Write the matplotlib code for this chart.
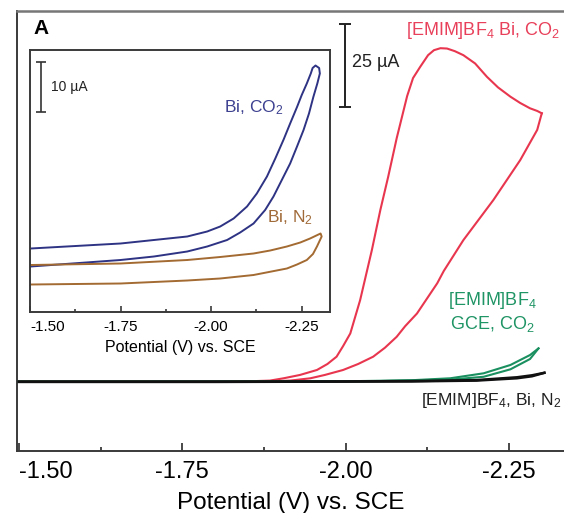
import matplotlib
matplotlib.use("Agg")
import matplotlib.pyplot as plt

plt.rcParams['font.family'] = ['Liberation Sans', 'DejaVu Sans']
plt.rcParams['mathtext.fontset'] = 'custom'
plt.rcParams['mathtext.rm'] = 'Liberation Sans'
plt.rcParams['mathtext.it'] = 'Liberation Sans'

# main panel: potential (V vs SCE) and current (uA, baseline = 0)
red_fwd_v = [-1.50, -1.70, -1.80, -1.854, -1.884, -1.905, -1.930, -1.956, -1.972, -1.986, -1.996,
             -2.007, -2.022, -2.040, -2.053, -2.065, -2.078, -2.094, -2.103, -2.114, -2.126,
             -2.135, -2.145, -2.155, -2.167, -2.180, -2.198, -2.216, -2.233, -2.252, -2.267,
             -2.282, -2.293, -2.300]
red_fwd_i = [0.0, 0.0, 0.0, 0.1, 0.3, 1.0, 2.0, 3.5, 5.3, 7.5, 10.7,
             14.5, 24.5, 39.6, 51.7, 61.7, 73.3, 86.0, 91.4, 94.8, 98.3,
             99.8, 100.4, 100.3, 99.5, 98.3, 95.8, 91.8, 88.6, 85.8, 83.9,
             82.3, 81.5, 80.8]
red_rev_v = [-2.300, -2.293, -2.267, -2.226, -2.180, -2.150, -2.140, -2.109, -2.091, -2.078,
             -2.060, -2.042, -2.019, -1.996, -1.968, -1.946, -1.915, -1.879, -1.70, -1.50]
red_rev_i = [80.8, 75.8, 66.7, 54.7, 42.6, 33.3, 29.6, 20.5, 16.7, 13.5,
             10.2, 7.5, 5.3, 3.5, 2.0, 1.0, 0.3, 0.0, 0.0, 0.0]

green_fwd_v = [-1.50, -1.90, -2.05, -2.16, -2.211, -2.252, -2.282, -2.295]
green_fwd_i = [0.0, 0.0, 0.15, 0.6, 1.45, 3.7, 6.8, 10.0]
green_rev_v = [-2.295, -2.282, -2.252, -2.211, -2.160, -2.100, -2.000, -1.50]
green_rev_i = [10.0, 8.0, 5.0, 2.5, 1.0, 0.4, 0.1, 0.0]

black_fwd_v = [-1.50, -1.80, -2.00, -2.10, -2.20, -2.262, -2.285, -2.304]
black_fwd_i = [0.0, 0.0, 0.05, 0.15, 0.45, 1.3, 1.9, 2.65]
black_rev_v = [-2.304, -2.285, -2.262, -2.20, -2.10, -1.80, -1.50]
black_rev_i = [2.65, 1.6, 1.0, 0.3, 0.05, -0.1, -0.1]

# inset: Bi electrode (uA, bottom of frame = 0)
blue_v = [-1.502, -1.75, -1.842, -1.934, -1.989, -2.044, -2.080, -2.117, -2.149, -2.172,
          -2.195, -2.218, -2.237, -2.255, -2.270, -2.282, -2.293, -2.300,
          -2.298, -2.288, -2.280, -2.275, -2.264, -2.250, -2.237, -2.218, -2.200, -2.177,
          -2.154, -2.126, -2.099, -2.062, -2.025, -1.989, -1.934, -1.842, -1.75, -1.502]
blue_i = [9.1, 10.4, 11.1, 12.1, 13.1, 14.4, 15.9, 17.7, 20.4, 23.1,
          26.4, 29.7, 33.1, 36.4, 39.7, 43.0, 45.7, 47.7,
          48.8, 49.3, 48.8, 47.7, 45.7, 43.4, 41.0, 37.7, 34.5, 30.7,
          27.1, 23.7, 21.1, 18.7, 17.1, 16.1, 15.1, 14.4, 13.7, 12.7]
brown_v = [-1.502, -1.75, -1.934, -2.025, -2.117, -2.209, -2.237, -2.264, -2.281, -2.292, -2.305,
           -2.302, -2.273, -2.246, -2.209, -2.163, -2.117, -2.025, -1.934, -1.75, -1.502]
brown_i = [5.5, 5.7, 6.3, 6.7, 7.4, 8.7, 9.5, 10.4, 11.6, 13.1, 15.1,
           15.7, 14.7, 13.9, 13.1, 12.3, 11.7, 11.0, 10.4, 9.7, 9.4]

tick_pos = [-1.50, -1.75, -2.00, -2.25]
tick_labels = ['-1.50', '-1.75', '-2.00', '-2.25']
minor_pos = [-1.625, -1.875, -2.125]

RED = '#e8364f'
GREEN = '#1a8f5f'
BLUE = '#2e3383'
BROWN = '#a36a32'
FRAME = '#3a3a3a'

fig = plt.figure(figsize=(5.64, 5.13), dpi=100)

# ---- main axes ----
ax = fig.add_axes([17/564, 62/513, 547/564, 440/513])
ax.plot(red_fwd_v, red_fwd_i, color=RED, lw=1.5, zorder=2)
ax.plot(red_rev_v, red_rev_i, color=RED, lw=1.5, zorder=2)
ax.plot(green_fwd_v, green_fwd_i, color=GREEN, lw=1.5, zorder=3)
ax.plot(green_rev_v, green_rev_i, color=GREEN, lw=1.5, zorder=3)
ax.plot(black_fwd_v, black_fwd_i, color='#111111', lw=1.8, zorder=4)
ax.plot(black_rev_v, black_rev_i, color='#111111', lw=1.8, zorder=4)

ax.set_xlim(-1.497, -2.334)
ax.set_ylim(-20.9, 111.6)
ax.set_yticks([])
ax.set_xticks(tick_pos)
ax.set_xticklabels(tick_labels, fontsize=17)
ax.set_xticks(minor_pos, minor=True)
ax.tick_params(axis='x', which='major', direction='in', length=6, width=1.3,
               color=FRAME, pad=7)
ax.tick_params(axis='x', which='minor', direction='in', length=3, width=1.3, color=FRAME)
ax.get_xticklabels()[0].set_ha('left')
ax.set_xlabel('Potential (V) vs. SCE', fontsize=17.5, labelpad=7)
ax.spines['right'].set_visible(False)
for s in ['left', 'bottom']:
    ax.spines[s].set_color(FRAME)
    ax.spines[s].set_linewidth(1.4)
ax.spines['top'].set_color('#777777')
ax.spines['top'].set_linewidth(1.8)

# 25 uA scale bar
ax.errorbar([-1.999], [95.2], yerr=[12.5], color='#222222', lw=1.4, capsize=4.5,
            capthick=1.4, zorder=5)
ax.text(-2.010, 96.2, '25 µA', fontsize=13, va='center', ha='left', color='#222222')

ax.text(-2.0925, 105.6, '[EMIM]BF$_4$ Bi, CO$_2$', fontsize=13, color='#e8405a',
        va='center', ha='left')
ax.text(-2.224, 24.5, '[EMIM]BF$_4$', fontsize=13, color='#1f9465', va='center', ha='center')
ax.text(-2.224, 17.3, 'GCE, CO$_2$', fontsize=13, color='#1f9465', va='center', ha='center')
ax.text(-2.1155, -5.6, '[EMIM]BF$_4$, Bi, N$_2$', fontsize=12.5, color='#222222',
        va='center', ha='left')

fig.text(33/564, 1 - 28/513, 'A', fontsize=15, fontweight='bold', va='center', ha='left')

# ---- inset ----
ins = fig.add_axes([30/564, (513-312)/513, 300/564, 262/513])
ins.plot(blue_v, blue_i, color=BLUE, lw=1.4)
ins.plot(brown_v, brown_i, color=BROWN, lw=1.4)
ins.set_xlim(-1.502, -2.328)
ins.set_ylim(0, 52.4)
ins.set_yticks([])
ins.set_xticks(tick_pos)
ins.set_xticklabels(tick_labels, fontsize=11)
ins.set_xticks(minor_pos, minor=True)
ins.tick_params(axis='x', which='major', direction='in', length=4.5, width=1.2,
                color=FRAME, pad=6)
ins.tick_params(axis='x', which='minor', direction='in', length=2.5, width=1.2, color=FRAME)
ins.get_xticklabels()[0].set_ha('left')
ins.set_xlabel('Potential (V) vs. SCE', fontsize=11.5, labelpad=4)
for s in ins.spines.values():
    s.set_color(FRAME)
    s.set_linewidth(1.4)

ins.errorbar([-1.530], [45], yerr=[5], color='#333333', lw=1.2, capsize=3.5,
             capthick=1.2)
ins.text(-1.557, 45, '10 µA', fontsize=10, va='center', ha='left', color='#222222')
ins.text(-2.199, 40.8, 'Bi, CO$_2$', fontsize=12.5, color='#3d4190', va='center', ha='right')
ins.text(-2.282, 18.8, 'Bi, N$_2$', fontsize=12.5, color='#a06a38', va='center', ha='right')

fig.savefig('out.png', dpi=100)
